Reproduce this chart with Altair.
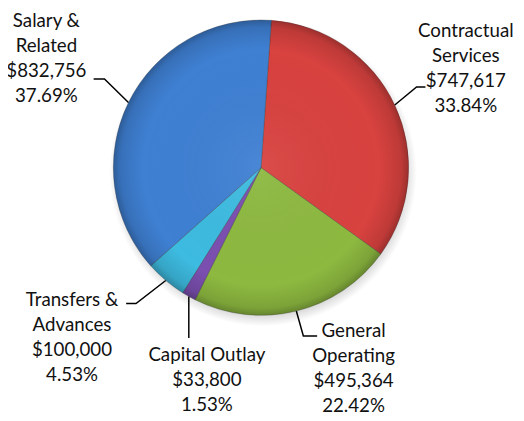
import math
import altair as alt
import pandas as pd

# ---------------- data ----------------
categories = ["Contractual Services", "General Operating", "Capital Outlay",
              "Transfers & Advances", "Salary & Related"]
amounts = [747617, 495364, 33800, 100000, 832756]
amount_labels = ["$747,617", "$495,364", "$33,800", "$100,000", "$832,756"]
percent_labels = ["33.84%", "22.42%", "1.53%", "4.53%", "37.69%"]
name_lines = [["Contractual", "Services"], ["General", "Operating"], ["Capital Outlay"],
              ["Transfers &", "Advances"], ["Salary &", "Related"]]
slice_colors = ["#D8423F", "#8DB940", "#7B4FB0", "#3DBBE0", "#3F80D3"]

# ---------------- layout / style ----------------
W, H = 516, 405           # chart area
OFF = 8                   # page margin -> image coordinates
CX, CY, R = 265, 167, 150  # pie centre / radius in image coordinates
START = math.radians(4.0)
FONT = "Lato"
FS = 19
LH = 25.5
# first-line centre of text, leader elbow and leader end (image coords)
label_layout = {
    "Contractual Services": dict(text=(473, 28), elbow=(423, 85), end=(432, 85)),
    "General Operating": dict(text=(359, 333), elbow=(308, 338), end=(322, 338)),
    "Capital Outlay": dict(text=(210, 357), elbow=None, end=(None, 340)),
    "Transfers & Advances": dict(text=(73, 301), elbow=(138, 305), end=(128, 305)),
    "Salary & Related": dict(text=(47, 18), elbow=(106, 77), end=(95, 77)),
}

total = sum(amounts)
pie_df = pd.DataFrame({"cat": categories, "amount": amounts,
                       "order": list(range(len(categories)))})

rows_line, rows_text = [], []
cum = 0.0
for i, (c, a) in enumerate(zip(categories, amounts)):
    mid = START + 2 * math.pi * (cum + a / 2) / total
    cum += a
    ex = CX + R * math.sin(mid)
    ey = CY - R * math.cos(mid)
    lay = label_layout[c]
    pts = [(ex, ey)]
    if lay["elbow"] is not None:
        pts.append(lay["elbow"])
    endx = lay["end"][0] if lay["end"][0] is not None else ex
    pts.append((endx, lay["end"][1]))
    for j, (px, py) in enumerate(pts):
        rows_line.append({"id": c, "seq": j, "x": px, "y": py})
    txt = "\n".join(name_lines[i] + [amount_labels[i], percent_labels[i]])
    rows_text.append({"id": c, "x": lay["text"][0], "y": lay["text"][1], "t": txt})

line_df = pd.DataFrame(rows_line)
text_df = pd.DataFrame(rows_text)
one = pd.DataFrame({"k": [0]})

xs = alt.Scale(domain=[OFF, OFF + W], nice=False, zero=False)
ys = alt.Scale(domain=[OFF, OFF + H], nice=False, zero=False, reverse=True)

shadow = alt.Chart(one).mark_arc(
    theta=0, theta2=2 * math.pi, outerRadius=R + 6,
    color=alt.RadialGradient(
        gradient="radial", x1=0.5, y1=0.5, r1=0, x2=0.5, y2=0.5, r2=0.5,
        stops=[alt.GradientStop(offset=0, color="rgba(0,0,0,0.25)"),
               alt.GradientStop(offset=0.9, color="rgba(0,0,0,0.2)"),
               alt.GradientStop(offset=1, color="rgba(0,0,0,0)")])
).encode(x=alt.value(CX - OFF + 2), y=alt.value(CY - OFF + 5))

pie = alt.Chart(pie_df).mark_arc(outerRadius=R, stroke="#333333",
                                 strokeWidth=0.6, strokeOpacity=0.5).encode(
    theta=alt.Theta("amount:Q", stack=True,
                    scale=alt.Scale(range=[START, START + 2 * math.pi])),
    order=alt.Order("order:Q"),
    color=alt.Color("cat:N", legend=None,
                    scale=alt.Scale(domain=categories, range=slice_colors)),
    x=alt.value(CX - OFF), y=alt.value(CY - OFF),
)

rim = alt.Chart(one).mark_arc(
    theta=0, theta2=2 * math.pi, outerRadius=R,
    color=alt.RadialGradient(
        gradient="radial", x1=0.5, y1=0.5, r1=0, x2=0.5, y2=0.5, r2=0.5,
        stops=[alt.GradientStop(offset=0, color="rgba(255,255,255,0.06)"),
               alt.GradientStop(offset=0.8, color="rgba(0,0,0,0)"),
               alt.GradientStop(offset=0.95, color="rgba(0,0,0,0.12)"),
               alt.GradientStop(offset=1, color="rgba(0,0,0,0.28)")])
).encode(x=alt.value(CX - OFF), y=alt.value(CY - OFF))

leaders = alt.Chart(line_df).mark_line(color="#000000", strokeWidth=1.5).encode(
    x=alt.X("x:Q", scale=xs, axis=None),
    y=alt.Y("y:Q", scale=ys, axis=None),
    detail="id:N",
    order="seq:Q",
)

labels = alt.Chart(text_df).mark_text(
    lineBreak="\n", align="center", baseline="middle", lineHeight=LH,
    font=FONT, fontSize=FS, color="#111111"
).encode(
    x=alt.X("x:Q", scale=xs, axis=None),
    y=alt.Y("y:Q", scale=ys, axis=None),
    text="t:N",
)

chart = alt.layer(shadow, pie, rim, leaders, labels).properties(
    width=W, height=H, padding=0, autosize=alt.AutoSizeParams(type="none"),
    background="#ffffff"
).configure_view(stroke=None)

chart.save("out.html", embed_options={"renderer": "svg", "actions": False})
